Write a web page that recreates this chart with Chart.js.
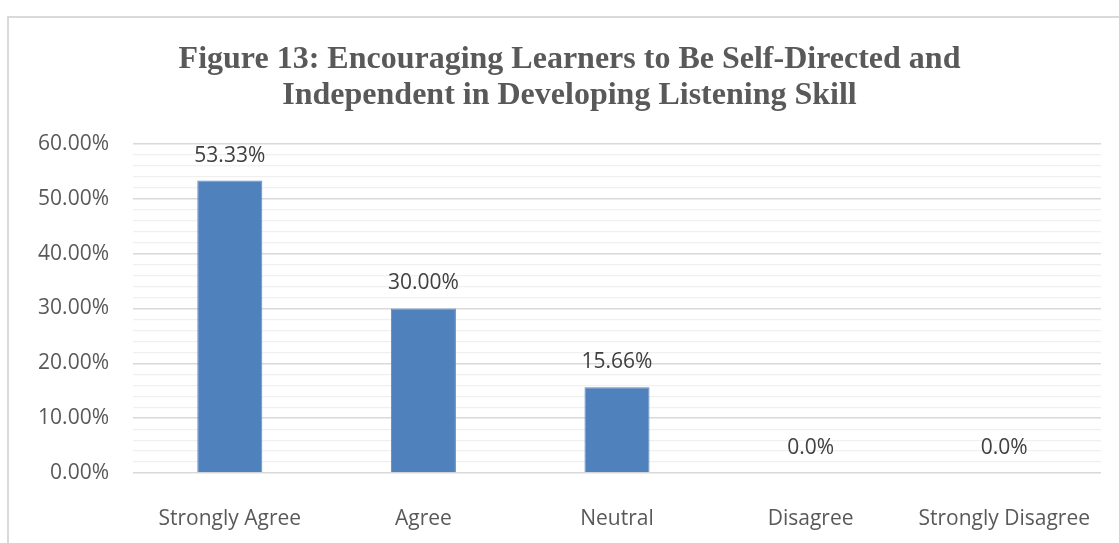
<!DOCTYPE html>
<html>
<head>
<meta charset="utf-8">
<script src="https://cdn.jsdelivr.net/npm/chart.js@4/dist/chart.umd.min.js"></script>
<style>
    html, body { margin: 0; padding: 0; background: #ffffff; }
    #wrap { position: relative; width: 1119px; height: 543px; }
</style>
</head>
<body>
<div id="wrap"><canvas id="fig13"></canvas></div>
<script>
// respuestas de la encuesta (porcentajes)
const categories = ["Strongly Agree", "Agree", "Neutral", "Disagree", "Strongly Disagree"];
const percents = [53.33, 30.00, 15.66, 0, 0];
const labelDecimals = [2, 2, 2, 1, 1];
const titleLines = [
    "Figure 13: Encouraging Learners to Be Self-Directed and",
    "Independent in Developing Listening Skill",
];

const textColor = "#595959";
const bodyFont = "'Open Sans', sans-serif";

// marco gris del gráfico (solo arriba e izquierda)
const framePlugin = {
    id: "frame",
    beforeDraw(chart) {
        const ctx = chart.ctx;
        ctx.save();
        ctx.fillStyle = "#ffffff";
        ctx.fillRect(0, 0, chart.width, chart.height);
        ctx.strokeStyle = "#d9d9d9";
        ctx.lineWidth = 2;
        ctx.beginPath();
        ctx.moveTo(8, chart.height);
        ctx.lineTo(8, 17);
        ctx.lineTo(chart.width, 17);
        ctx.stroke();
        ctx.restore();
    },
};

// etiquetas de valor encima de cada barra
const valueLabels = {
    id: "valueLabels",
    afterDatasetsDraw(chart) {
        const ctx = chart.ctx;
        const meta = chart.getDatasetMeta(0);
        ctx.save();
        ctx.font = "21px " + bodyFont;
        ctx.fillStyle = "#404040";
        ctx.textAlign = "center";
        ctx.textBaseline = "middle";
        meta.data.forEach((bar, i) => {
            const txt = percents[i].toFixed(labelDecimals[i]) + "%";
            ctx.fillText(txt, bar.x, bar.y - 25);
        });
        ctx.restore();
    },
};

const ctx = document.getElementById("fig13").getContext("2d");

new Chart(ctx, {
    type: "bar",
    data: {
        labels: categories,
        datasets: [
            {
                data: percents,
                backgroundColor: "#4f81bd",
                borderColor: "#5a8ac4",
                borderWidth: 1,
                barPercentage: 0.336,
                categoryPercentage: 1,
            },
        ],
    },
    options: {
        responsive: true,
        maintainAspectRatio: false,
        animation: false,
        layout: {
            padding: { top: 21, right: 18, left: 38, bottom: 0 },
        },
        plugins: {
            title: {
                display: true,
                text: titleLines,
                color: textColor,
                font: {
                    size: 32,
                    family: "'Liberation Serif', 'Times New Roman', serif",
                    weight: "bold",
                    lineHeight: 1.125,
                },
                padding: { top: 21, bottom: 30 },
            },
            legend: { display: false },
            tooltip: { enabled: false },
        },
        scales: {
            x: {
                grid: { display: false },
                border: { display: false },
                ticks: {
                    color: textColor,
                    font: { size: 21, family: bodyFont },
                    padding: 25,
                    maxRotation: 0,
                },
                afterFit(scale) { scale.height = 70; },
            },
            y: {
                min: 0,
                max: 60,
                border: { display: false },
                grid: {
                    drawTicks: false,
                    color: (c) => (c.tick && c.tick.value % 10 === 0 ? "#d9d9d9" : "#f0f0f0"),
                    lineWidth: (c) => (c.tick && c.tick.value % 10 === 0 ? 1.5 : 1.2),
                },
                ticks: {
                    stepSize: 2,
                    autoSkip: false,
                    padding: 24,
                    color: textColor,
                    font: { size: 21, family: bodyFont },
                    callback: (v) => (v % 10 === 0 ? v.toFixed(2) + "%" : ""),
                },
                afterFit(scale) { scale.width = 95; },
            },
        },
    },
    plugins: [framePlugin, valueLabels],
});
</script>
</body>
</html>
